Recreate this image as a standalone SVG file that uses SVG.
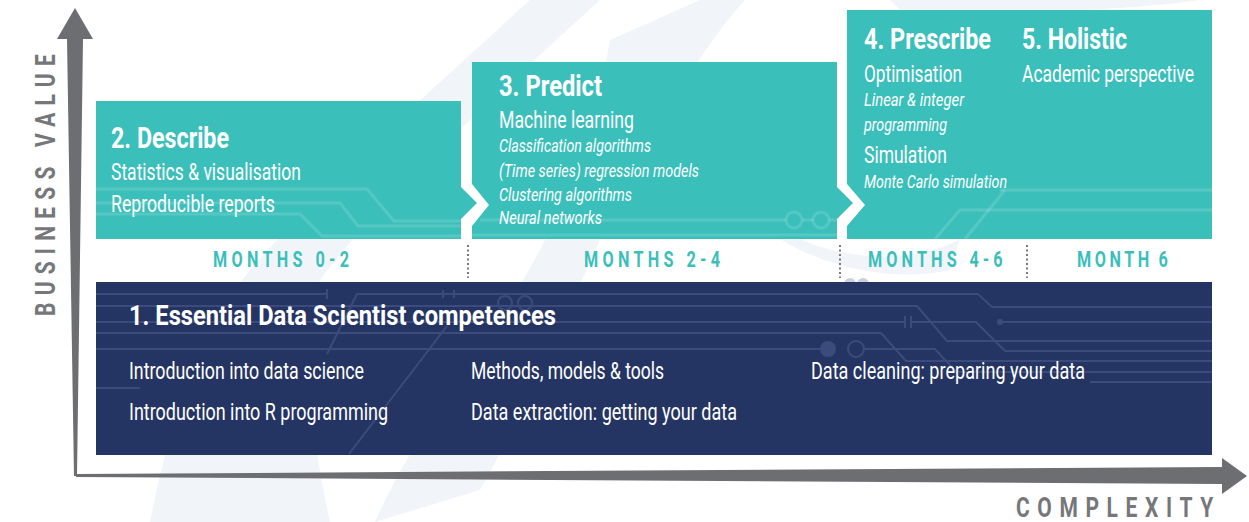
<svg xmlns="http://www.w3.org/2000/svg" width="1249" height="522" viewBox="0 0 1249 522">
<defs>
<style>
.bg{fill:#f1f5f9}
.teal{fill:#3bbfba}
.navy{fill:#253563}
.axis{fill:#6d6e72}
.tt{font-family:Roboto,"Liberation Sans",sans-serif;font-weight:700;fill:#ffffff}
.ti{font-family:Roboto,"Liberation Sans",sans-serif;font-weight:400;fill:#ffffff}
.it{font-family:Roboto,"Liberation Sans",sans-serif;font-weight:400;font-style:italic;fill:#ffffff}
.mo{font-family:Roboto,"Liberation Sans",sans-serif;font-weight:700;fill:#3bbfba;font-size:22.5px}
.ax{font-family:Roboto,"Liberation Sans",sans-serif;font-weight:700;fill:#76777b;font-size:28px}
.dots{stroke:#7a7a7e;stroke-width:2;stroke-dasharray:2 2.5;fill:none}
.cl{fill:none;stroke:#3b4b7b;stroke-width:2}
.clt{fill:none;stroke:#ffffff;stroke-opacity:0.14;stroke-width:3}
</style>
</defs>
<rect width="1249" height="522" fill="#ffffff"/>
<g id="background">
<path class="bg" d="M150,522 C170,420 200,330 250,270 C320,190 420,100 530,0 L600,0 C480,110 380,200 320,280 C300,330 310,430 330,522 Z"/>
<path class="bg" d="M375,522 C420,420 500,330 545,240 C580,170 600,100 610,40 L700,0 L745,0 C690,60 640,160 600,240 C560,330 520,420 480,490 Z"/>
<path class="bg" d="M890,0 L1200,0 C1120,12 980,14 900,10 Z"/>
<path class="bg" d="M780,239 C830,270 900,282 950,270 L960,239 C920,262 850,262 800,239 Z"/>
</g>
<g id="axes">
<polygon class="axis" points="75,8 93,39 83,39 77,476 74,476 67,39 57,39"/>
<polygon class="axis" points="76,474 1222,467 1222,458 1247,476 1222,494 1222,484 76,477"/>
<text class="ax" transform="translate(55,316) rotate(-90) scale(0.75,1)" textLength="349" lengthAdjust="spacing">BUSINESS VALUE</text>
<text class="ax" fill="#6d6e72" transform="translate(1016,517) scale(0.75,1)" textLength="263" lengthAdjust="spacing">COMPLEXITY</text>
</g>
<g id="node-describe">
<polygon class="teal" points="96,101 461,101 461,187 477,203 461,219 461,239 96,239"/>
<path class="clt" d="M96,189 H367 L394,221 H461"/>
<path class="clt" d="M96,203 H340 L358,226 H461" stroke-width="2"/>
<path class="clt" d="M96,214 H300 L322,236 H461" stroke-width="2"/>
<text class="tt" x="111" y="148" font-size="29.5" textLength="118" lengthAdjust="spacingAndGlyphs">2. Describe</text>
<text class="ti" x="111" y="180" font-size="23" textLength="190" lengthAdjust="spacingAndGlyphs">Statistics &amp; visualisation</text>
<text class="ti" x="111" y="212" font-size="23" textLength="164" lengthAdjust="spacingAndGlyphs">Reproducible reports</text>
</g>
<g id="node-predict">
<polygon class="teal" points="472,62 837,62 837,187 853,203 837,219 837,239 472,239 472,226 489,205 472,184"/>
<path class="clt" d="M480,220 H786 M802,220 H813 M829,220 H837"/>
<circle cx="794" cy="220" r="8" class="clt"/>
<circle cx="821" cy="220" r="8" class="clt"/>
<path class="clt" d="M472,235 H837" stroke-width="2"/>
<text class="tt" x="499" y="96" font-size="29.5" textLength="103" lengthAdjust="spacingAndGlyphs">3. Predict</text>
<text class="ti" x="499" y="128" font-size="23" textLength="135" lengthAdjust="spacingAndGlyphs">Machine learning</text>
<text class="it" x="499" y="152" font-size="18" textLength="152" lengthAdjust="spacingAndGlyphs">Classification algorithms</text>
<text class="it" x="499" y="176.5" font-size="18" textLength="200" lengthAdjust="spacingAndGlyphs">(Time series) regression models</text>
<text class="it" x="499" y="200.5" font-size="18" textLength="133" lengthAdjust="spacingAndGlyphs">Clustering algorithms</text>
<text class="it" x="499" y="224" font-size="18" textLength="103" lengthAdjust="spacingAndGlyphs">Neural networks</text>
</g>
<g id="node-prescribe-holistic">
<polygon class="teal" points="847,10 1212,10 1212,239 847,239 847,226 865,205 847,184"/>
<path class="clt" d="M1000,190 H1212" stroke-width="2"/>
<path class="clt" d="M965,239 L1005,190" stroke-width="2"/>
<path class="clt" d="M935,239 L960,210 H1212" stroke-width="2"/>
<text class="tt" x="864" y="49" font-size="29.5" textLength="127" lengthAdjust="spacingAndGlyphs">4. Prescribe</text>
<text class="tt" x="1022" y="49" font-size="29.5" textLength="105" lengthAdjust="spacingAndGlyphs">5. Holistic</text>
<text class="ti" x="864" y="82" font-size="23" textLength="98" lengthAdjust="spacingAndGlyphs">Optimisation</text>
<text class="ti" x="1022" y="82" font-size="23" textLength="172" lengthAdjust="spacingAndGlyphs">Academic perspective</text>
<text class="it" x="864" y="106" font-size="18" textLength="100" lengthAdjust="spacingAndGlyphs">Linear &amp; integer</text>
<text class="it" x="864" y="131" font-size="18" textLength="83" lengthAdjust="spacingAndGlyphs">programming</text>
<text class="ti" x="864" y="163" font-size="23" textLength="83" lengthAdjust="spacingAndGlyphs">Simulation</text>
<text class="it" x="864" y="188" font-size="18" textLength="143" lengthAdjust="spacingAndGlyphs">Monte Carlo simulation</text>
</g>
<g id="months">
<text class="mo" transform="translate(213,267) scale(0.72,1)" textLength="189" lengthAdjust="spacing">MONTHS<tspan dx="12">0-2</tspan></text>
<text class="mo" transform="translate(584,267) scale(0.72,1)" textLength="189" lengthAdjust="spacing">MONTHS<tspan dx="12">2-4</tspan></text>
<text class="mo" transform="translate(868,267) scale(0.72,1)" textLength="187" lengthAdjust="spacing">MONTHS<tspan dx="12">4-6</tspan></text>
<text class="mo" transform="translate(1077,267) scale(0.72,1)" textLength="126" lengthAdjust="spacing">MONTH<tspan dx="8">6</tspan></text>
<path class="dots" d="M468,245 V278 M840,245 V278 M1027,245 V278"/>
</g>
<g id="node-essential">
<circle cx="850" cy="284" r="6" fill="#c9d1de"/>
<circle cx="863" cy="284" r="6" fill="#c9d1de"/>
<rect class="navy" x="96" y="282" width="1116" height="173"/>
<path class="cl" d="M96,294 H327 M327,289 V299"/>
<path class="cl" d="M327,354 L357,294 H978 L992,307 H1212"/>
<path class="cl" d="M443,290 V298 M454,290 V298"/>
<path class="cl" d="M96,306 H917 L947,341 H1212" stroke-width="3"/>
<path class="cl" d="M96,322 H905 M911,322 H976 L1005,351 H1212" stroke-width="1.5"/>
<path class="cl" d="M905,316 V328 M911,316 V328" stroke-width="1.5"/>
<path class="cl" d="M1000,322 H1212"/>
<circle cx="1000" cy="322" r="3" fill="#3b4b7b"/>
<path class="cl" d="M96,333 H881 L906,361 H1212"/>
<path class="cl" d="M96,349 H820 M864,349 H935 L956,372 H1212" stroke-width="3"/>
<circle cx="828" cy="349" r="8" fill="#3b4b7b"/>
<circle cx="856" cy="349" r="8" class="cl" stroke-width="3"/>
<circle cx="505" cy="303" r="7" class="cl"/>
<circle cx="525" cy="303" r="7" class="cl"/>
<path class="cl" d="M447,326 L349,454"/>
<path class="cl" d="M96,388 H140 M1090,382 H1212"/>
<text class="tt" x="129" y="325" font-size="27.5" textLength="427" lengthAdjust="spacingAndGlyphs">1. Essential Data Scientist competences</text>
<text class="ti" x="129" y="379" font-size="23" textLength="235" lengthAdjust="spacingAndGlyphs">Introduction into data science</text>
<text class="ti" x="129" y="420" font-size="23" textLength="259" lengthAdjust="spacingAndGlyphs">Introduction into R programming</text>
<text class="ti" x="471" y="379" font-size="23" textLength="193" lengthAdjust="spacingAndGlyphs">Methods, models &amp; tools</text>
<text class="ti" x="471" y="420" font-size="23" textLength="266" lengthAdjust="spacingAndGlyphs">Data extraction: getting your data</text>
<text class="ti" x="811" y="379" font-size="23" textLength="274" lengthAdjust="spacingAndGlyphs">Data cleaning: preparing your data</text>
</g>
</svg>
